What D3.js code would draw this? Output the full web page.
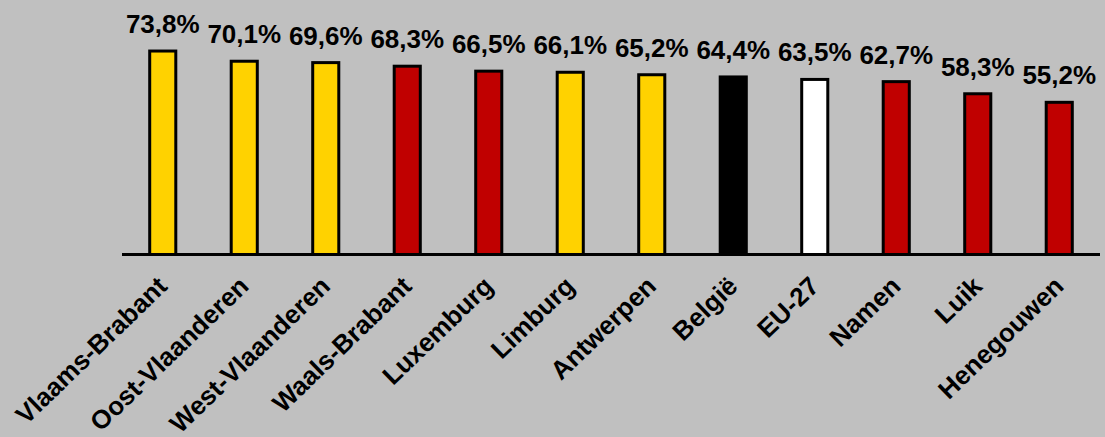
<!DOCTYPE html>
<html>
<head>
<meta charset="utf-8">
<script src="https://cdn.jsdelivr.net/npm/d3@7"></script>
<style>
  html, body { margin: 0; padding: 0; background: #C0C0C0; }
  svg { display: block; }
  text { font-family: "Liberation Sans", Arial, sans-serif; font-weight: bold; fill: #000; }
</style>
</head>
<body>
<svg id="chart" width="1105" height="437"></svg>
<script>
const categories = ["Vlaams-Brabant", "Oost-Vlaanderen", "West-Vlaanderen", "Waals-Brabant", "Luxemburg", "Limburg", "Antwerpen", "België", "EU-27", "Namen", "Luik", "Henegouwen"];
const values = [73.8, 70.1, 69.6, 68.3, 66.5, 66.1, 65.2, 64.4, 63.5, 62.7, 58.3, 55.2];
const groups = ["VL", "VL", "VL", "WAL", "WAL", "VL", "VL", "BE", "EU", "WAL", "WAL", "WAL"];
const valueLabels = ["73,8%", "70,1%", "69,6%", "68,3%", "66,5%", "66,1%", "65,2%", "64,4%", "63,5%", "62,7%", "58,3%", "55,2%"];

const colorScale = d3.scaleOrdinal()
  .domain(["VL", "WAL", "BE", "EU"])
  .range(["#FFD200", "#C00000", "#000000", "#FFFFFF"]);

const data = categories.map((c, i) => ({ cat: c, v: values[i], g: groups[i], lbl: valueLabels[i] }));

const svg = d3.select("#chart");
const x0 = 122, x1 = 1100, yBase = 254.5;
const x = d3.scaleBand().domain(categories).range([x0, x1]).paddingInner(0.68).paddingOuter(0.34);
const y = d3.scaleLinear().domain([0, 80]).range([yBase, yBase - 2.757 * 80]);

svg.selectAll("rect.bar").data(data).enter().append("rect")
  .attr("class", "bar")
  .attr("x", d => x(d.cat))
  .attr("width", x.bandwidth())
  .attr("y", d => y(d.v))
  .attr("height", d => y(0) - y(d.v))
  .attr("fill", d => colorScale(d.g))
  .attr("stroke", "#000")
  .attr("stroke-width", 3);

// baseline axis
const axis = d3.axisBottom(x).tickSize(0).tickFormat("");
const ag = svg.append("g").attr("transform", `translate(0,${yBase})`).call(axis);
ag.select(".domain").attr("stroke", "#000").attr("stroke-width", 3).attr("d", `M${x0},0H${x1}`);

// value labels
svg.selectAll("text.val").data(data).enter().append("text")
  .attr("class", "val")
  .attr("x", d => x(d.cat) + x.bandwidth() / 2)
  .attr("y", d => y(d.v) - 18)
  .attr("text-anchor", "middle")
  .attr("font-size", 26)
  .text(d => d.lbl);

// category labels
svg.selectAll("text.cat").data(data).enter().append("text")
  .attr("class", "cat")
  .attr("transform", d => `translate(${x(d.cat) + x.bandwidth() / 2 + 6},288) rotate(-44)`)
  .attr("text-anchor", "end")
  .attr("font-size", 26)
  .text(d => d.cat);
</script>
</body>
</html>
